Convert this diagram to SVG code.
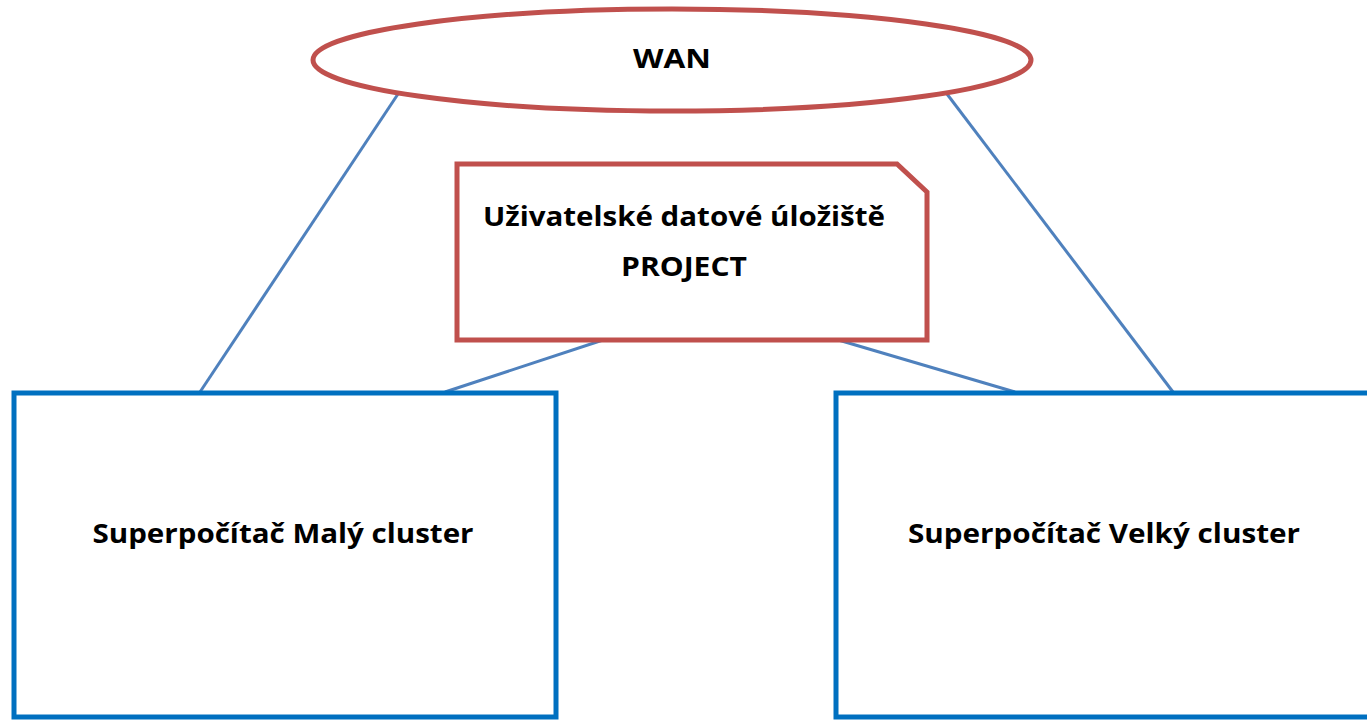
<svg xmlns="http://www.w3.org/2000/svg" width="1367" height="720" viewBox="0 0 1367 720">
<style>
.lbl{font-family:"Open Sans","Liberation Sans",sans-serif;font-weight:bold;font-size:26px;fill:#000;text-anchor:middle}
.red{fill:#fff;stroke:#C0504D;stroke-width:5}
.blue{fill:#fff;stroke:#0070C0;stroke-width:5}
.conn{stroke:#4F81BD;stroke-width:3;fill:none}
</style>
<rect width="1367" height="720" fill="#fff"/>
<g id="connectors">
<line class="conn" x1="398" y1="94" x2="200" y2="392"/>
<line class="conn" x1="947" y1="94" x2="1173" y2="392"/>
<line class="conn" x1="606" y1="339" x2="445" y2="392"/>
<line class="conn" x1="835" y1="339" x2="1015" y2="392"/>
</g>
<g id="wan">
<ellipse class="red" cx="672" cy="60" rx="359" ry="51"/>
<text class="lbl" x="672" y="68" textLength="78" lengthAdjust="spacingAndGlyphs">WAN</text>
</g>
<g id="storage">
<path class="red" d="M457,164 L897,164 L927,192 L927,340 L457,340 Z"/>
<text class="lbl" x="684" y="226" textLength="402" lengthAdjust="spacingAndGlyphs">Uživatelské datové úložiště</text>
<text class="lbl" x="684" y="276" textLength="126" lengthAdjust="spacingAndGlyphs">PROJECT</text>
</g>
<g id="small-cluster">
<rect class="blue" x="14" y="393" width="542" height="324"/>
<text class="lbl" x="283" y="543" textLength="381" lengthAdjust="spacingAndGlyphs">Superpočítač Malý cluster</text>
</g>
<g id="big-cluster">
<rect class="blue" x="836" y="393" width="540" height="324"/>
<text class="lbl" x="1104" y="543" textLength="392" lengthAdjust="spacingAndGlyphs">Superpočítač Velký cluster</text>
</g>
</svg>
